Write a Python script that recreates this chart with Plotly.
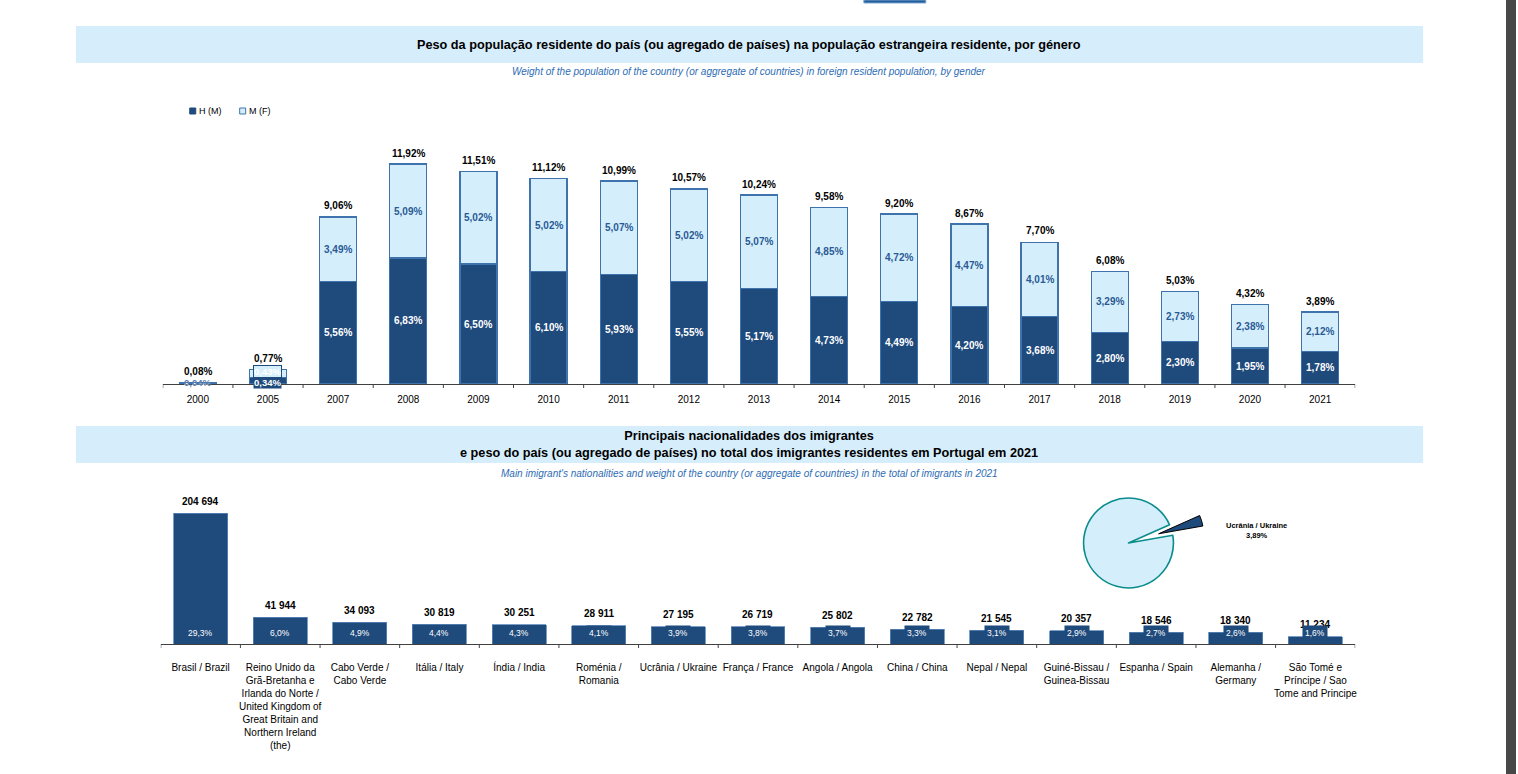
import plotly.graph_objects as go

W, H = 1518, 774

# ---------------- data ----------------
years = ["2000", "2005", "2007", "2008", "2009", "2010", "2011", "2012", "2013",
         "2014", "2015", "2016", "2017", "2018", "2019", "2020", "2021"]
men = [0.04, 0.34, 5.56, 6.83, 6.50, 6.10, 5.93, 5.55, 5.17, 4.73, 4.49, 4.20,
       3.68, 2.80, 2.30, 1.95, 1.78]
women = [0.04, 0.43, 3.49, 5.09, 5.02, 5.02, 5.07, 5.02, 5.07, 4.85, 4.72, 4.47,
         4.01, 3.29, 2.73, 2.38, 2.12]
totals = [0.08, 0.77, 9.06, 11.92, 11.51, 11.12, 10.99, 10.57, 10.24, 9.58, 9.20,
          8.67, 7.70, 6.08, 5.03, 4.32, 3.89]

countries = [
    "Brasil / Brazil",
    "Reino Unido da<br>Grã-Bretanha e<br>Irlanda do Norte /<br>United Kingdom of<br>Great Britain and<br>Northern Ireland<br>(the)",
    "Cabo Verde /<br>Cabo Verde",
    "Itália / Italy",
    "Índia / India",
    "Roménia /<br>Romania",
    "Ucrânia / Ukraine",
    "França / France",
    "Angola / Angola",
    "China / China",
    "Nepal / Nepal",
    "Guiné-Bissau /<br>Guinea-Bissau",
    "Espanha / Spain",
    "Alemanha /<br>Germany",
    "São Tomé e<br>Príncipe / Sao<br>Tome and Principe",
]
immigrants = [204694, 41944, 34093, 30819, 30251, 28911, 27195, 26719, 25802,
              22782, 21545, 20357, 18546, 18340, 11234]
shares = [29.3, 6.0, 4.9, 4.4, 4.3, 4.1, 3.9, 3.8, 3.7, 3.3, 3.1, 2.9, 2.7, 2.6, 1.6]

pie_labels = ["Ucrânia / Ukraine", "Outros"]
pie_values = [3.89, 96.11]

# ---------------- style ----------------
DARK = "#1F4A7C"
LIGHT = "#D5EEFC"
BAND = "#D6EEFC"
FONT = "Liberation Sans, Arial, sans-serif"


def px_x(x):
    return x / W


def px_y(y):
    return 1 - y / H


def pct2(v):
    return f"{v:.2f}".replace(".", ",") + "%"


def pct1(v):
    return f"{v:.1f}".replace(".", ",") + "%"


def thousands(v):
    return f"{v:,}".replace(",", " ")


fig = go.Figure()

# top stacked bars (x = category index)
xi = list(range(len(years)))
fig.add_trace(go.Bar(x=xi, y=men, name="H (M)", marker=dict(color=DARK, line=dict(color="#3F73AE", width=1.2)),
                     xaxis="x", yaxis="y", showlegend=False, hoverinfo="skip"))
fig.add_trace(go.Bar(x=xi, y=women, name="M (F)", marker=dict(color=LIGHT, line=dict(color="#3F73AE", width=1.2)),
                     xaxis="x", yaxis="y", showlegend=False, hoverinfo="skip"))

# bottom bars
ci = list(range(len(countries)))
fig.add_trace(go.Bar(x=ci, y=immigrants, marker=dict(color=DARK, line=dict(color="#5A86B8", width=0.8)),
                     xaxis="x2", yaxis="y2", showlegend=False, hoverinfo="skip", width=0.678))

# pie
pie_cx, pie_cy, pie_r, pull = 1130, 543, 45, 0.7
half = pie_r * (1 + pull)
fig.add_trace(go.Pie(labels=pie_labels, values=pie_values, sort=False, direction="clockwise",
                     rotation=66, pull=[pull, 0], textinfo="none", hoverinfo="skip", showlegend=False,
                     marker=dict(colors=[DARK, LIGHT], line=dict(color=["#000000", "#0A8C8C"], width=[1, 1.6])),
                     domain=dict(x=[px_x(pie_cx - half), px_x(pie_cx + half)],
                                 y=[px_y(pie_cy + half), px_y(pie_cy - half)])))

ann = []
# top labels
for i in xi:
    ann.append(dict(x=i, y=totals[i], xref="x", yref="y", text=f"<b>{pct2(totals[i])}</b>",
                    showarrow=False, yshift=11, xanchor="center", yanchor="middle",
                    font=dict(size=10, color="#000000", family=FONT)))
    small = men[i] < 1
    tiny = men[i] < 0.1
    fs = 9.5 if small else 10
    ann.append(dict(x=i, y=men[i] / 2, xref="x", yref="y", text=f"<b>{pct2(men[i])}</b>",
                    showarrow=False, xanchor="center", yanchor="middle",
                    yshift=-2 if small else 0,
                    font=dict(size=fs, color="#FFFFFF", family=FONT),
                    bgcolor=DARK if (small and not tiny) else None, borderpad=0))
    ann.append(dict(x=i, y=men[i] + women[i] / 2, xref="x", yref="y", text=f"<b>{pct2(women[i])}</b>",
                    showarrow=False, xanchor="center", yanchor="middle",
                    yshift=2 if (small and not tiny) else 0,
                    font=dict(size=fs, color="#5B7FB0" if tiny else ("#2A5A94" if not small else "#FFFFFF"),
                              family=FONT),
                    bgcolor=LIGHT if (small and not tiny) else None,
                    bordercolor=DARK if (small and not tiny) else None, borderpad=0))

# bottom labels
for i in ci:
    ann.append(dict(x=i, y=immigrants[i], xref="x2", yref="y2", text=f"<b>{thousands(immigrants[i])}</b>",
                    showarrow=False, yshift=12, xanchor="center", yanchor="middle",
                    font=dict(size=10, color="#000000", family=FONT)))
    ann.append(dict(x=i, y=0, xref="x2", yref="y2", text=pct1(shares[i]),
                    showarrow=False, yshift=11, xanchor="center", yanchor="middle",
                    font=dict(size=8.5, color="#FFFFFF", family=FONT),
                    bgcolor=DARK, borderpad=2))


def paper_text(x, y, text, size, color="#000000", xanchor="center"):
    return dict(x=px_x(x), y=px_y(y), xref="paper", yref="paper", showarrow=False,
                xanchor=xanchor, yanchor="middle", text=text,
                font=dict(size=size, color=color, family=FONT))


ann += [
    paper_text(1258, 530, "<b>Ucrânia / Ukraine<br>" + pct2(pie_values[0]) + "</b>", 7.5),
    paper_text(750, 45, "<b>Peso da população residente do país (ou agregado de países) na população estrangeira residente, por género</b>", 12.7),
    paper_text(750, 72, "<i>Weight of the population of the country (or aggregate of countries) in foreign resident population, by gender</i>", 10, "#2E6DB4"),
    paper_text(750, 445, "<b>Principais nacionalidades dos imigrantes<br>e peso do país (ou agregado de países) no total dos imigrantes residentes em Portugal em 2021</b>", 12.7),
    paper_text(750, 473, "<i>Main imigrant's nationalities and weight of the country (or aggregate of countries) in the total of imigrants in 2021</i>", 10, "#2E6DB4"),
    paper_text(197, 111, "H (M)", 9, xanchor="left"),
    paper_text(247, 111, "M (F)", 9, xanchor="left"),
]

shapes = [
    dict(type="rect", xref="paper", yref="paper", x0=px_x(76), x1=px_x(1425), y0=px_y(63), y1=px_y(26),
         fillcolor=BAND, line=dict(width=0), layer="below"),
    dict(type="rect", xref="paper", yref="paper", x0=px_x(76), x1=px_x(1425), y0=px_y(463), y1=px_y(426),
         fillcolor=BAND, line=dict(width=0), layer="below"),
    dict(type="rect", xref="paper", yref="paper", x0=px_x(190), x1=px_x(196), y0=px_y(114), y1=px_y(108),
         fillcolor=DARK, line=dict(color=DARK, width=1)),
    dict(type="rect", xref="paper", yref="paper", x0=px_x(240), x1=px_x(246), y0=px_y(114), y1=px_y(108),
         fillcolor=LIGHT, line=dict(color="#3F73AE", width=1)),
    dict(type="rect", xref="paper", yref="paper", x0=px_x(1508), x1=1, y0=0, y1=1,
         fillcolor="#474747", line=dict(width=0)),
    dict(type="rect", xref="paper", yref="paper", x0=px_x(865), x1=px_x(927), y0=px_y(3), y1=1,
         fillcolor="#1F5C99", line=dict(color="#7FA7D4", width=1)),
]

top_px_per = 18.45
bot_px_per = 0.00064

fig.update_layout(
    width=W, height=H, autosize=False, margin=dict(l=0, r=0, t=0, b=0, pad=0),
    paper_bgcolor="#FFFFFF", plot_bgcolor="#FFFFFF",
    barmode="stack", bargap=0.473, showlegend=False,
    font=dict(family=FONT, color="#000000"),
    xaxis=dict(domain=[px_x(163), px_x(1357)], anchor="y", tickmode="array", tickvals=xi, ticktext=years,
               range=[-0.5, len(years) - 0.5], tickangle=0, ticklabelstandoff=6,
               showline=True, linecolor="#404040", linewidth=1, ticks="", showgrid=False,
               tickfont=dict(size=10, color="#000000", family=FONT), fixedrange=True),
    yaxis=dict(domain=[px_y(384), px_y(140)], anchor="x", range=[0, (384 - 140) / top_px_per],
               visible=False, showgrid=False, fixedrange=True),
    xaxis2=dict(domain=[px_x(161), px_x(1357)], anchor="y2", tickmode="array", tickvals=ci, ticktext=countries,
                range=[-0.5, len(countries) - 0.5], tickangle=0, ticklabelstandoff=14,
                showline=True, linecolor="#404040", linewidth=1, ticks="", showgrid=False,
                tickfont=dict(size=10, color="#000000", family=FONT), fixedrange=True),
    yaxis2=dict(domain=[px_y(644), px_y(490)], anchor="x2", range=[0, (644 - 490) / bot_px_per],
                visible=False, showgrid=False, fixedrange=True),
    annotations=ann, shapes=shapes,
)

# short tick marks at category boundaries below each axis
for ax, n, base in (("x", len(years), 384), ("x2", len(countries), 644)):
    for b in range(n + 1):
        fig.add_shape(type="line", xref=ax, yref="paper", x0=b - 0.5, x1=b - 0.5,
                      y0=px_y(base + 4), y1=px_y(base), line=dict(color="#404040", width=1))

fig.write_html("out.html", config={"responsive": False, "displayModeBar": False},
               post_script="document.body.style.margin='0';document.body.style.overflow='hidden';")
